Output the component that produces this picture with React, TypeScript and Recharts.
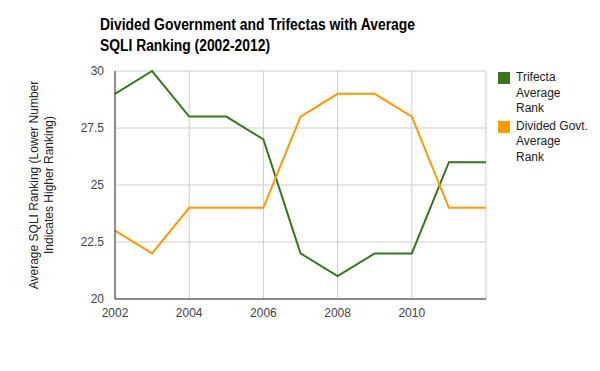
import React from "react";
import { CartesianGrid, Line, LineChart, XAxis, YAxis } from "recharts";

const YEARS = [2002, 2003, 2004, 2005, 2006, 2007, 2008, 2009, 2010, 2011, 2012];
const TRIFECTA = [29, 30, 28, 28, 27, 22, 21, 22, 22, 26, 26];
const DIVIDED = [23, 22, 24, 24, 24, 28, 29, 29, 28, 24, 24];
const X_TICKS = [2002, 2004, 2006, 2008, 2010];
const Y_TICKS = [20, 22.5, 25, 27.5, 30];
const TITLE = ["Divided Government and Trifectas with Average", "SQLI Ranking (2002-2012)"];
const Y_LABEL = ["Average SQLI Ranking (Lower Number", "Indicates Higher Ranking)"];

const GREEN = "#38761d";
const ORANGE = "#ff9900";
const FONT = "Arial, 'Liberation Sans', sans-serif";

const data = YEARS.map((year, i) => ({ year, trifecta: TRIFECTA[i], divided: DIVIDED[i] }));

const legendItems = [
  { color: GREEN, lines: ["Trifecta", "Average", "Rank"] },
  { color: ORANGE, lines: ["Divided Govt.", "Average", "Rank"] },
];

function LegendBox() {
  return (
    <div style={{ position: "absolute", left: 498, top: 70, fontFamily: FONT, fontSize: 12, color: "#222" }}>
      {legendItems.map((item, i) => (
        <div key={i} style={{ display: "flex", marginBottom: 2 }}>
          <div style={{ width: 12, height: 12, background: item.color, marginTop: 2, marginRight: 6 }} />
          <div style={{ lineHeight: "15.5px" }}>
            {item.lines.map((l) => (
              <div key={l}>{l}</div>
            ))}
          </div>
        </div>
      ))}
    </div>
  );
}

function YLabel() {
  return (
    <text
      transform="translate(0,185) rotate(-90)"
      textAnchor="middle"
      fontFamily={FONT}
      fontSize={12}
      fill="#222"
    >
      <tspan x={0} y={37.5}>{Y_LABEL[0]}</tspan>
      <tspan x={0} y={52.5}>{Y_LABEL[1]}</tspan>
    </text>
  );
}

export default function App() {
  return (
    <div style={{ position: "absolute", left: 0, top: 0, width: 600, height: 371, background: "#fff" }}>
      <div style={{ position: "absolute", left: 0, top: 0 }}>
        <LineChart width={600} height={371} data={data} margin={{ top: 71, right: 114, bottom: 0, left: 0 }}>
          <CartesianGrid stroke="#cccccc" />
          <XAxis
            dataKey="year"
            type="number"
            domain={[2002, 2012]}
            ticks={X_TICKS}
            interval={0}
            stroke="#333"
            tickLine={false}
            tickSize={0}
            tickMargin={9}
            tick={{ fill: "#444", fontSize: 12, fontFamily: FONT }}
            height={72}
          />
          <YAxis
            domain={[20, 30]}
            ticks={Y_TICKS}
            interval={0}
            stroke="#333"
            tickLine={false}
            tickSize={0}
            tickMargin={11}
            width={115}
            tick={{ fill: "#444", fontSize: 12, fontFamily: FONT }}
            label={<YLabel />}
          />
          <Line dataKey="trifecta" stroke={GREEN} strokeWidth={2} dot={false} isAnimationActive={false} />
          <Line dataKey="divided" stroke={ORANGE} strokeWidth={2} dot={false} isAnimationActive={false} />
        </LineChart>
      </div>
      <svg width={600} height={60} style={{ position: "absolute", left: 0, top: 0 }}>
        <text x={100} y={30} fontFamily={FONT} fontSize={16} fontWeight="bold" fill="#000" textLength={315} lengthAdjust="spacingAndGlyphs">
          {TITLE[0]}
        </text>
        <text x={100} y={51} fontFamily={FONT} fontSize={16} fontWeight="bold" fill="#000" textLength={170} lengthAdjust="spacingAndGlyphs">
          {TITLE[1]}
        </text>
      </svg>
      <LegendBox />
    </div>
  );
}
